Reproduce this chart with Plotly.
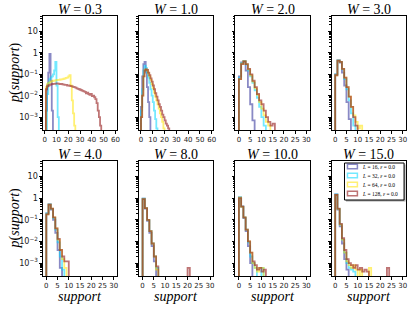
import plotly.graph_objects as go

# ---------------- data (probability per integer bin, bin k = [k, k+1)) ----------------
W_values = ["0.3", "1.0", "2.0", "3.0", "4.0", "8.0", "10.0", "15.0"]
L_values = ["16", "32", "64", "128"]

w03_L16 = [0, 0.002, 0.03, 0.12, 0.9, 0.05, 0.002]
w03_L32 = [0, 0, 0.012, 0.04, 0.06, 0.07, 0.08, 0.1, 0.15, 0.38, 0.03, 0.001]
w03_L64 = [0, 0.025, 0.035, 0.04, 0.042, 0.045, 0.048, 0.05, 0.05, 0.052, 0.054,
           0.055, 0.055, 0.057, 0.058, 0.06, 0.062, 0.065, 0.068, 0.07, 0.08, 0.09,
           0.03, 0.006, 0.0015, 0.0004]
w03_L128 = [0, 0.02, 0.027, 0.03, 0.032, 0.034, 0.035, 0.036, 0.036, 0.037, 0.038,
            0.037, 0.036, 0.035, 0.036, 0.034, 0.033, 0.032, 0.032, 0.03, 0.03,
            0.029, 0.028, 0.027, 0.026, 0.025, 0.024, 0.022, 0.021, 0.02, 0.019,
            0.018, 0.017, 0.016, 0.015, 0.013, 0.014, 0.012, 0.011, 0.012, 0.0095,
            0.01, 0.0085, 0.007, 0.0045, 0.002, 0.001, 0.0004]

w10_L16 = [0.003, 0.08, 0.3, 0.38, 0.12, 0.025, 0.005, 0.001]
w10_L32 = [0.002, 0.02, 0.15, 0.25, 0.2, 0.12, 0.07, 0.04, 0.02, 0.01, 0.005,
           0.002, 0.0008, 0.0003]
w10_L64 = [0.001, 0.01, 0.08, 0.16, 0.17, 0.15, 0.11, 0.08, 0.055, 0.035, 0.022,
           0.014, 0.009, 0.006, 0.004, 0.0025, 0.0015, 0.001, 0.0006, 0.0003]
w10_L128 = [0.001, 0.01, 0.08, 0.15, 0.17, 0.16, 0.12, 0.09, 0.065, 0.045, 0.03,
            0.02, 0.013, 0.009, 0.006, 0.004, 0.003, 0.002, 0.0013, 0.001, 0.0007,
            0.0005, 0.0004, 0.0003]

w20_L16 = [0.08, 0.36, 0.41, 0.15, 0.025, 0.004, 0.0007]
w20_L32 = [0.07, 0.33, 0.41, 0.28, 0.15, 0.08, 0.04, 0.018, 0.008, 0.003, 0.001, 0.0004]
w20_L64 = [0.06, 0.31, 0.41, 0.3, 0.17, 0.09, 0.045, 0.022, 0.011, 0.005, 0.0025,
           0.0012, 0.0006, 0.0004]
w20_L128 = [0.06, 0.3, 0.4, 0.3, 0.18, 0.1, 0.05, 0.025, 0.012, 0.006, 0.004,
            0.002, 0.001, 0.0006, 0.0004, 0.0005]

w30_L16 = [0.1, 0.45, 0.35, 0.12, 0.03, 0.005, 0.0008]
w30_L32 = [0.1, 0.44, 0.38, 0.17, 0.06, 0.02, 0.006, 0.0015, 0.0004]
w30_L64 = [0.09, 0.43, 0.38, 0.18, 0.07, 0.025, 0.009, 0.003, 0.0012, 0.0006,
           0.0003, 0.0004]
w30_L128 = [0.09, 0.43, 0.38, 0.18, 0.07, 0.025, 0.009, 0.003, 0.001, 0.0004]

w40_L16 = [0.2, 0.52, 0.3, 0.1, 0.025, 0.004, 0.0006]
w40_L32 = [0.2, 0.52, 0.32, 0.12, 0.035, 0.009, 0.002, 0.0005]
w40_L64 = [0.18, 0.5, 0.33, 0.13, 0.04, 0.012, 0.004, 0.0015, 0.0006]
w40_L128 = [0.18, 0.5, 0.33, 0.13, 0.04, 0.013, 0.004, 0.002, 0.0012, 0.0012]

w80_L16 = [0.95, 0.33, 0.09, 0.025, 0.006, 0.0012]
w80_L32 = [0.95, 0.35, 0.1, 0.03, 0.008, 0.002, 0.0006]
w80_L64 = [0.9, 0.35, 0.1, 0.03, 0.008, 0.002, 0.0005]
w80_L128 = [0.9, 0.35, 0.1, 0.03, 0.008, 0.002, 0.0007, 0, 0, 0, 0, 0, 0, 0, 0,
            0, 0, 0, 0, 0, 0.0006]

w100_L16 = [1.1, 0.4, 0.12, 0.03, 0.006, 0.001]
w100_L32 = [1.1, 0.42, 0.13, 0.035, 0.009, 0.002, 0.001, 0.0006, 0, 0, 0.0006]
w100_L64 = [1.05, 0.4, 0.13, 0.035, 0.01, 0.003, 0.001, 0.0006, 0.0004, 0.0006, 0.0006]
w100_L128 = [1.0, 0.42, 0.13, 0.035, 0.01, 0.003, 0.0012, 0.0008, 0.0005, 0.0006,
             0.0004, 0.0005]

w150_L16 = [1.5, 0.3, 0.05, 0.008, 0.0015, 0.0005]
w150_L32 = [1.5, 0.32, 0.06, 0.012, 0.003, 0.001, 0.0006, 0.0005, 0.0004]
w150_L64 = [1.4, 0.32, 0.06, 0.012, 0.003, 0.0012, 0.0008, 0.0006, 0.0008, 0.0005,
            0, 0.0005, 0, 0, 0, 0.0006]
w150_L128 = [1.4, 0.33, 0.065, 0.014, 0.004, 0.0015, 0.001, 0.0008, 0.0006, 0.0008,
             0.0005, 0.0006, 0.0004, 0.0005, 0.0004, 0, 0, 0, 0, 0, 0, 0, 0, 0.0006]

panels = [
    [w03_L16, w03_L32, w03_L64, w03_L128],
    [w10_L16, w10_L32, w10_L64, w10_L128],
    [w20_L16, w20_L32, w20_L64, w20_L128],
    [w30_L16, w30_L32, w30_L64, w30_L128],
    [w40_L16, w40_L32, w40_L64, w40_L128],
    [w80_L16, w80_L32, w80_L64, w80_L128],
    [w100_L16, w100_L32, w100_L64, w100_L128],
    [w150_L16, w150_L32, w150_L64, w150_L128],
]

# ---------------- styling ----------------
W, H = 415, 310


def px(x):
    return x / W


def py(y):
    return 1 - y / H


colors = ["rgba(20,20,140,0.5)", "rgba(0,215,255,0.55)",
          "rgba(255,228,0,0.55)", "rgba(150,30,30,0.62)"]
legend_edge = colors
col_px = [(43, 118), (140, 215), (237, 312), (334, 409)]
row_px = [(16, 130), (161, 276)]
TINY = 1e-8

fig = go.Figure()
layout = {}
for i, series in enumerate(panels):
    r, c = divmod(i, 4)
    ax = "" if i == 0 else str(i + 1)
    for s, vals in enumerate(series):
        n = len(vals)
        xs = [0] + list(range(n)) + [n]
        ys = [TINY] + [v if v > 0 else TINY for v in vals] + [TINY]
        fig.add_trace(go.Scatter(
            x=xs, y=ys, mode="lines", line=dict(shape="hv", color=colors[s], width=1.8),
            xaxis="x" + ax, yaxis="y" + ax, showlegend=False, hoverinfo="skip"))
    x0, x1 = col_px[c]
    y0, y1 = row_px[r]
    wide = i < 2
    layout["xaxis" + ax] = dict(
        domain=[px(x0), px(x1)], anchor="y" + ax,
        range=[-1.7, 61.5] if wide else [-1.6, 31.5],
        dtick=10 if wide else 5, tick0=0,
        showline=True, linecolor="black", linewidth=1, mirror=True,
        ticks="outside", ticklen=2.5, tickcolor="black", tickwidth=0.8,
        showgrid=False, zeroline=False,
        tickfont=dict(family="DejaVu Sans", size=7, color="#222"),
    )
    layout["yaxis" + ax] = dict(
        domain=[py(y1), py(y0)], anchor="x" + ax, type="log",
        range=[-3.6, 1.72], dtick=1, exponentformat="power",
        showline=True, linecolor="black", linewidth=1, mirror=True,
        ticks="outside", ticklen=2.5, tickcolor="black", tickwidth=0.8,
        minor=dict(ticks="outside", ticklen=1.5, tickcolor="black", tickwidth=0.6),
        showgrid=False, zeroline=False, showticklabels=(c == 0),
        tickfont=dict(family="DejaVu Sans", size=6.5, color="#222"),
    )

annotations = []
serif = "Liberation Serif"
for i, w in enumerate(W_values):
    r, c = divmod(i, 4)
    x0, x1 = col_px[c]
    y0, _ = row_px[r]
    annotations.append(dict(
        x=px((x0 + x1) / 2), y=py(y0 - 7), xref="paper", yref="paper",
        xanchor="center", yanchor="middle", showarrow=False,
        text="<i>W</i> = " + w, font=dict(family=serif, size=14, color="black")))
for r in range(2):
    y0, y1 = row_px[r]
    annotations.append(dict(
        x=px(15), y=py((y0 + y1) / 2), xref="paper", yref="paper",
        xanchor="center", yanchor="middle", showarrow=False, textangle=-90,
        text="<i>p</i>(<i>support</i>)", font=dict(family=serif, size=14, color="black")))
for c in range(4):
    x0, x1 = col_px[c]
    annotations.append(dict(
        x=px((x0 + x1) / 2), y=py(296), xref="paper", yref="paper",
        xanchor="center", yanchor="middle", showarrow=False,
        text="<i>support</i>", font=dict(family=serif, size=14, color="black")))

# legend (drawn manually inside the last panel)
shapes = []
lx0, ly0, lx1, ly1 = 347, 163, 407, 200
shapes.append(dict(type="rect", xref="paper", yref="paper",
                   x0=px(lx0 + 1.5), x1=px(lx1 + 1.5), y0=py(ly1 + 1.5), y1=py(ly0 + 1.5),
                   line=dict(width=0), fillcolor="rgba(0,0,0,0.35)"))
shapes.append(dict(type="rect", xref="paper", yref="paper",
                   x0=px(lx0), x1=px(lx1), y0=py(ly1), y1=py(ly0),
                   line=dict(color="black", width=1), fillcolor="white"))
for k, L in enumerate(L_values):
    yc = 166.5 + 9 * k
    shapes.append(dict(type="rect", xref="paper", yref="paper",
                       x0=px(350), x1=px(360), y0=py(yc + 2.2), y1=py(yc - 2.2),
                       line=dict(color=legend_edge[k], width=1.5), fillcolor="rgba(255,255,255,0)"))
    annotations.append(dict(
        x=px(363), y=py(yc), xref="paper", yref="paper",
        xanchor="left", yanchor="middle", showarrow=False,
        text="<i>L</i> = " + L + ", <i>ε</i> = 0.0",
        font=dict(family=serif, size=5.5, color="black")))

fig.update_layout(
    width=W, height=H, margin=dict(l=0, r=0, t=0, b=0),
    paper_bgcolor="white", plot_bgcolor="white", showlegend=False,
    annotations=annotations, shapes=shapes, **layout)

# remove the browser's default page margin so the figure fills the window exactly
fig.write_html("out.html", config={"displayModeBar": False},
               post_script="document.body.style.margin='0px';")
